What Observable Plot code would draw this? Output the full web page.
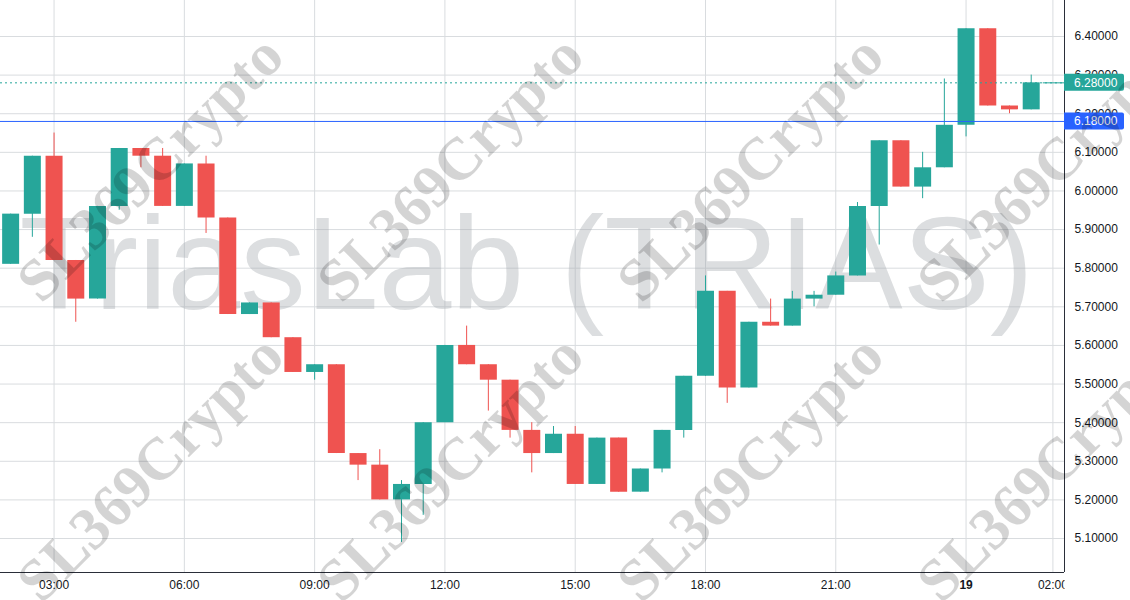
<!DOCTYPE html>
<html><head><meta charset="utf-8">
<script src="https://cdn.jsdelivr.net/npm/d3@7"></script>
<script src="https://cdn.jsdelivr.net/npm/@observablehq/plot@0.6"></script>
<style>
html,body{margin:0;padding:0;background:#fff;}
#chart{width:1130px;height:600px;overflow:hidden;}
</style></head><body><div id="chart"></div>
<script>
// ---- data (30-minute candles) ----
const times = ["18 02:00","18 02:30","18 03:00","18 03:30","18 04:00","18 04:30","18 05:00","18 05:30",
  "18 06:00","18 06:30","18 07:00","18 07:30","18 08:00","18 08:30","18 09:00","18 09:30",
  "18 10:00","18 10:30","18 11:00","18 11:30","18 12:00","18 12:30","18 13:00","18 13:30",
  "18 14:00","18 14:30","18 15:00","18 15:30","18 16:00","18 16:30","18 17:00","18 17:30",
  "18 18:00","18 18:30","18 19:00","18 19:30","18 20:00","18 20:30","18 21:00","18 21:30",
  "18 22:00","18 22:30","18 23:00","18 23:30","19 00:00","19 00:30","19 01:00","19 01:30"];
const open  = [5.81,5.94,6.09,5.82,5.72,5.96,6.11,6.09,5.96,6.07,5.93,5.68,5.71,5.62,5.53,5.55,
               5.32,5.29,5.20,5.24,5.40,5.60,5.55,5.51,5.38,5.32,5.37,5.24,5.36,5.22,5.28,5.38,
               5.52,5.74,5.49,5.66,5.65,5.72,5.73,5.78,5.96,6.13,6.01,6.06,6.17,6.42,6.22,6.21];
const high  = [5.94,6.09,6.15,5.82,5.96,6.11,6.11,6.11,6.07,6.09,5.93,5.71,5.71,5.62,5.55,5.55,
               5.32,5.33,5.25,5.40,5.60,5.65,5.55,5.51,5.40,5.39,5.39,5.36,5.36,5.28,5.38,5.52,
               5.78,5.74,5.66,5.72,5.74,5.74,5.79,5.97,6.13,6.13,6.10,6.29,6.42,6.42,6.22,6.30];
const low   = [5.81,5.88,5.82,5.66,5.72,5.95,6.06,5.96,5.96,5.89,5.68,5.68,5.62,5.53,5.51,5.32,
               5.25,5.20,5.09,5.16,5.40,5.55,5.43,5.36,5.27,5.32,5.24,5.24,5.22,5.22,5.27,5.36,
               5.52,5.45,5.49,5.65,5.65,5.70,5.73,5.78,5.86,6.01,5.98,6.06,6.14,6.22,6.20,6.21];
const close = [5.94,6.09,5.82,5.72,5.96,6.11,6.09,5.96,6.07,5.93,5.68,5.71,5.62,5.53,5.55,5.32,
               5.29,5.20,5.24,5.40,5.60,5.55,5.51,5.38,5.32,5.37,5.24,5.36,5.22,5.28,5.38,5.52,
               5.74,5.49,5.66,5.65,5.72,5.73,5.78,5.96,6.13,6.01,6.06,6.17,6.42,6.22,6.21,6.28];
const priceTicks = [5.1,5.2,5.3,5.4,5.5,5.6,5.7,5.8,5.9,6.0,6.1,6.2,6.3,6.4];
const timeTicks = ["18 03:00","18 06:00","18 09:00","18 12:00","18 15:00","18 18:00","18 21:00","19 00:00","19 02:00"];
const timeTickLabels = ["03:00","06:00","09:00","12:00","15:00","18:00","21:00","19","02:00"];
const xDomainStr = ["18 01:46","19 02:16"];
const yDomain = [5.012, 6.4932];
const lastPrice = 6.28;
const markPrice = 6.18;
const titleText = "TriasLab (TRIAS)";
const watermarkText = "SL369Crypto";

// ---- build ----
const parse = d3.utcParse("%d %H:%M");
const candles = times.map((t, i) => ({time: parse(t), open: open[i], high: high[i], low: low[i], close: close[i]}));
const tickDates = timeTicks.map(parse);
const labelMap = new Map(tickDates.map((d, i) => [+d, timeTickLabels[i]]));
const xDomain = xDomainStr.map(parse);
const UP = "#26a69a", DOWN = "#ef5350", BLUE = "#2962ff", GRID = "#d9dcdf", AXIS = "#2a2e39";
const col = d => d.close >= d.open ? UP : DOWN;
const lastTime = candles[candles.length - 1].time;

const chart = Plot.plot({
  width: 1130, height: 600,
  marginLeft: 0, marginRight: 66, marginTop: 0, marginBottom: 28,
  style: {background: "#fff", fontFamily: "'Liberation Sans', Arial, sans-serif", fontSize: "12px", color: "#131722"},
  color: {type: "identity"},
  x: {type: "utc", domain: xDomain, label: null},
  y: {domain: yDomain, label: null},
  marks: [
    Plot.gridX(tickDates, {stroke: GRID, strokeOpacity: 1}),
    Plot.gridY(priceTicks, {stroke: GRID, strokeOpacity: 1}),
    Plot.text([titleText], {frameAnchor: "top-left", dx: 526, dy: 308, textAnchor: "middle", lineAnchor: "bottom",
      fontSize: 131, fontFamily: "'Liberation Sans', Arial, sans-serif", fill: "#a4a8ad", fillOpacity: 0.38}),
    Plot.ruleX(candles, {x: "time", y1: "low", y2: "high", stroke: col, strokeWidth: 1}),
    Plot.ruleX(candles, {x: "time", y1: "open", y2: "close", stroke: col, strokeWidth: 17}),
    Plot.ruleY([lastPrice], {stroke: UP, strokeDasharray: "2,3", strokeWidth: 1}),
    Plot.ruleY([lastPrice], {x1: () => lastTime, x2: () => xDomain[1], dx: 12, stroke: UP, strokeWidth: 1}),
    Plot.ruleY([markPrice], {stroke: BLUE, strokeWidth: 1}),
    Plot.axisX(tickDates, {anchor: "bottom", tickSize: 0, tickPadding: 8, tickFormat: d => labelMap.get(+d), label: null}),
    Plot.axisY(priceTicks, {anchor: "right", tickSize: 0, tickPadding: 10, tickFormat: d3.format(".5f"), label: null}),
    Plot.ruleX([xDomain[1]], {stroke: AXIS, strokeWidth: 1}),
    Plot.ruleY([yDomain[0]], {stroke: AXIS, strokeWidth: 1})
  ]
});
document.getElementById("chart").appendChild(chart);

const svg = d3.select(chart);
// bold day label
svg.selectAll("text").filter(function() { return this.textContent === "19"; }).attr("font-weight", "bold");
// cover the corner so the time label is clipped at the price scale
const xr = chart.scale("x").apply(xDomain[1]);
const yb = chart.scale("y").apply(yDomain[0]);
svg.append("rect").attr("x", xr + 0.5).attr("y", yb + 0.5).attr("width", 1130 - xr).attr("height", 600 - yb).attr("fill", "#fff");

// price tags
function tag(value, fill) {
  const y = chart.scale("y").apply(value);
  svg.append("path")
    .attr("d", `M${xr},${y - 8.5}H${xr + 58}a2,2 0 0 1 2,2V${y + 6.5}a2,2 0 0 1 -2,2H${xr}Z`)
    .attr("fill", fill);
  svg.append("text").attr("x", xr + 10).attr("y", y).attr("dy", "0.35em")
    .attr("text-anchor", "start")
    .attr("fill", "#fff").attr("font-size", 12).text(d3.format(".5f")(value));
}
tag(lastPrice, UP);
tag(markPrice, BLUE);

// watermarks
const wm = svg.append("g").attr("pointer-events", "none");
for (let j = 0; j < 2; j++) {
  for (let i = 0; i < 4; i++) {
    wm.append("text")
      .attr("transform", `translate(${150 + 300 * i},${168 + 300 * j}) rotate(-45)`)
      .attr("text-anchor", "middle").attr("dominant-baseline", "central")
      .attr("font-family", "'Liberation Serif', 'Times New Roman', serif")
      .attr("font-weight", "bold").attr("font-size", 60)
      .attr("fill", "#000").attr("fill-opacity", 0.17)
      .text(watermarkText);
  }
}
</script>
</body></html>
